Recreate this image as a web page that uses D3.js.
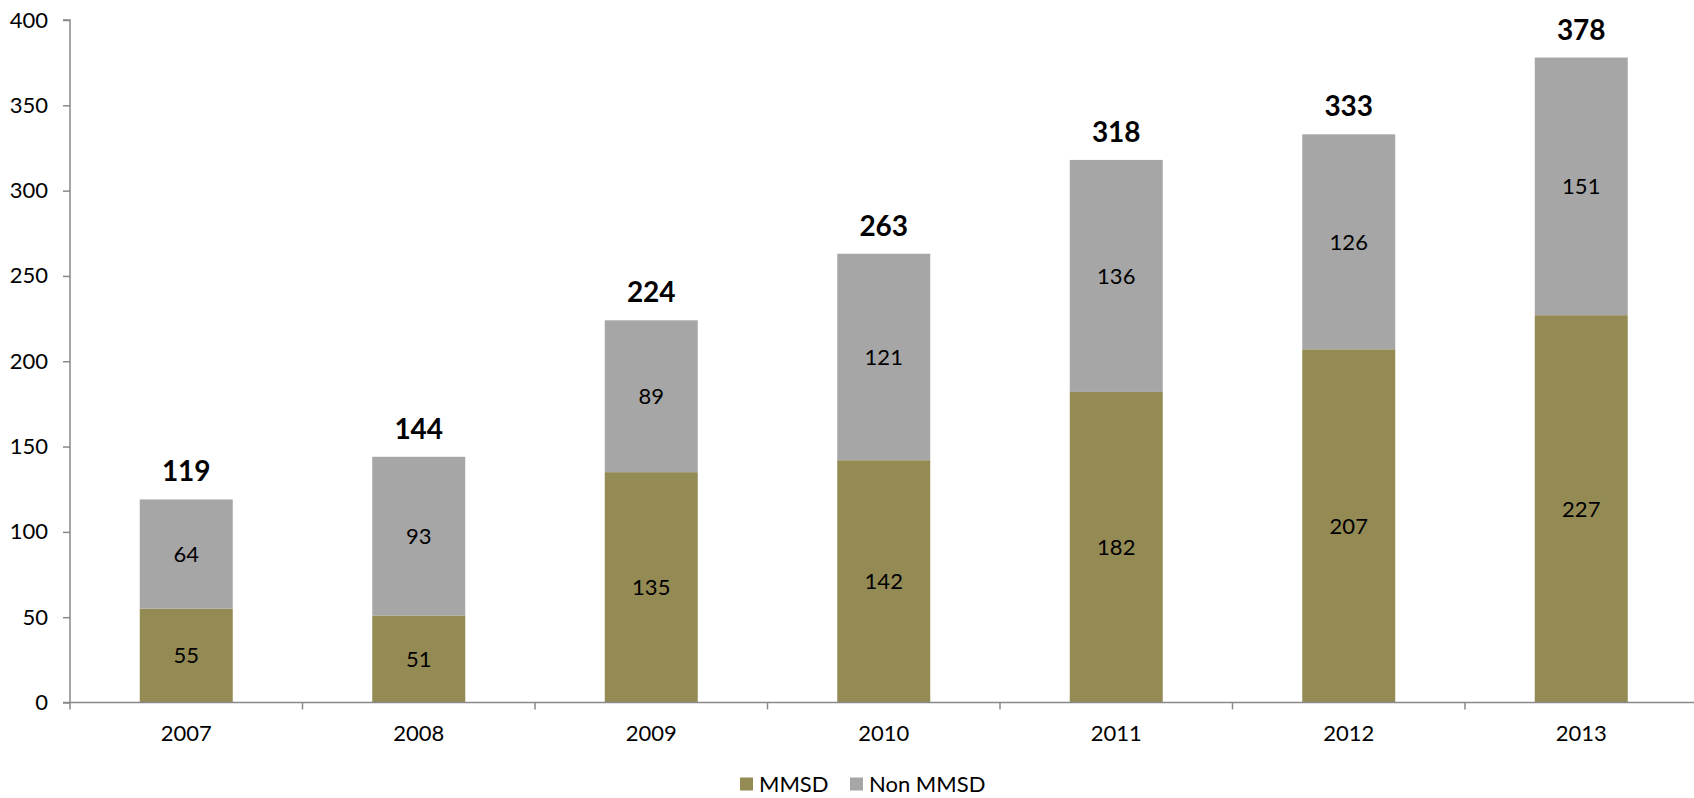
<!DOCTYPE html>
<html><head><meta charset="utf-8">
<script src="https://cdn.jsdelivr.net/npm/d3@7"></script>
<style>
body{margin:0;background:#fff;}
text{font-family:Lato,"Open Sans",sans-serif;fill:#000;}
</style></head>
<body><svg id="c" width="1694" height="798"></svg>
<script>
const years = ["2007","2008","2009","2010","2011","2012","2013"];
const mmsd = [55,51,135,142,182,207,227];
const nonMmsd = [64,93,89,121,136,126,151];
const totals = [119,144,224,263,318,333,378];
const yTicks = [0,50,100,150,200,250,300,350,400];
const seriesNames = ["MMSD","Non MMSD"];
const colors = ["#948A54","#A6A6A6"];

const svg = d3.select("#c");
const left = 70, y0 = 702.5, yTop = 20, band = 232.5;
const x = d3.scaleBand().domain(years).range([left, left + band*years.length]).paddingInner(0.6).paddingOuter(0.3);
const y = d3.scaleLinear().domain([0,400]).range([y0, yTop]);

const rows = years.map((yr,i)=>({year:yr, MMSD:mmsd[i], "Non MMSD":nonMmsd[i], total:totals[i]}));
const stack = d3.stack().keys(seriesNames)(rows);

// bars
stack.forEach((s,si)=>{
  svg.append("g").selectAll("rect").data(s).join("rect")
    .attr("x", d=>x(d.data.year)).attr("width", x.bandwidth())
    .attr("y", d=>y(d[1])).attr("height", d=>y(d[0])-y(d[1]))
    .attr("fill", colors[si]);
  svg.append("g").selectAll("text").data(s).join("text")
    .attr("x", d=>x(d.data.year)+x.bandwidth()/2)
    .attr("y", d=>(y(d[0])+y(d[1]))/2)
    .attr("text-anchor","middle").attr("dy","0.35em")
    .style("font-size","22px")
    .text(d=>d[1]-d[0]);
});

// totals
svg.append("g").selectAll("text").data(rows).join("text")
  .attr("x", d=>x(d.year)+x.bandwidth()/2)
  .attr("y", d=>y(d.total)-18)
  .attr("text-anchor","middle")
  .style("font-size","28px").style("font-weight","bold")
  .text(d=>d.total);

// y axis
const yAxis = svg.append("g").attr("transform",`translate(${left},0)`)
  .call(d3.axisLeft(y).tickValues(yTicks).tickSize(7).tickPadding(15));
yAxis.selectAll("text").style("font-size","22px").style("fill","#000");
yAxis.selectAll("line").attr("stroke","#898989").attr("stroke-width",1.5);
yAxis.select(".domain").attr("stroke","#898989").attr("stroke-width",1.5).attr("d",`M-7,${yTop}H0V${y0+7}`);

// x axis
const xAxis = svg.append("g").attr("transform",`translate(0,${y0})`)
  .call(d3.axisBottom(x).tickSize(0).tickPadding(23));
xAxis.selectAll("text").style("font-size","22px").style("fill","#000");
xAxis.select(".domain").attr("stroke","#898989").attr("stroke-width",1.5).attr("d",`M${left-7},0H${left+band*years.length}`);
// category separators
const seps = d3.range(1, years.length).map(i=>left+band*i);
xAxis.append("g").selectAll("line").data(seps).join("line")
  .attr("x1",d=>d).attr("x2",d=>d).attr("y1",0).attr("y2",7)
  .attr("stroke","#898989").attr("stroke-width",1.5);

// legend
const legendX = [740, 850];
const lg = svg.append("g");
seriesNames.forEach((n,i)=>{
  lg.append("rect").attr("x",legendX[i]).attr("y",777.5).attr("width",13).attr("height",13).attr("fill",colors[i]);
  lg.append("text").attr("x",legendX[i]+19).attr("y",784).attr("dy","0.35em").style("font-size","22px").text(n);
});
</script></body></html>
